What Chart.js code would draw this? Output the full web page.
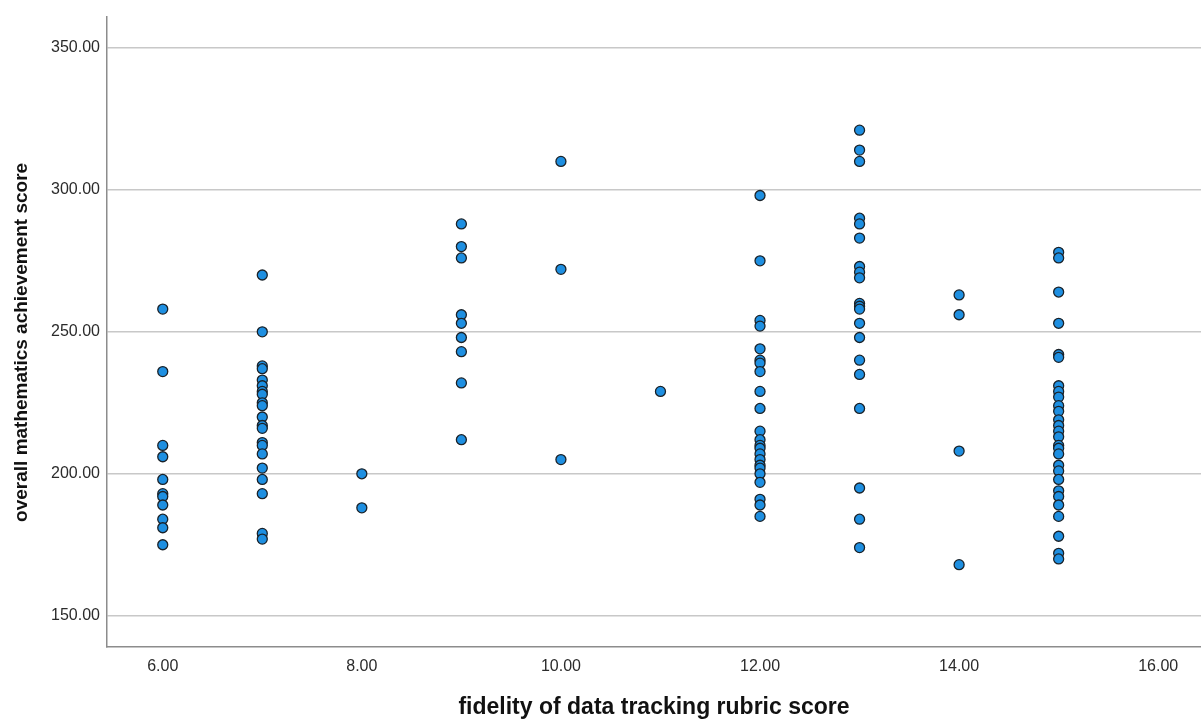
<!DOCTYPE html>
<html>
<head>
<meta charset="utf-8">
<title>fidelity vs mathematics score</title>
<script src="https://cdn.jsdelivr.net/npm/chart.js@4.4.1/dist/chart.umd.min.js"></script>
<style>
   body { margin: 0; background: #fff; }
   canvas { display: block; }
</style>
</head>
<body>
<canvas id="scatter" width="1201" height="719"></canvas>
<script>
const fidelityScores = [6, 7, 8, 9, 10, 11, 12, 13, 14, 15];
const mathAt6 = [258, 236, 210, 206, 198, 193, 192, 189, 184, 181, 175];
const mathAt7 = [270, 250, 238, 237, 233, 231, 229, 228, 225, 224, 220, 217, 216, 211, 210, 207, 202, 198, 193, 179, 177];
const mathAt8 = [200, 188];
const mathAt9 = [288, 280, 276, 256, 253, 248, 243, 232, 212];
const mathAt10 = [310, 272, 205];
const mathAt11 = [229];
const mathAt12 = [298, 275, 254, 252, 244, 240, 239, 236, 229, 223, 215, 212, 210, 209, 207, 205, 203, 202, 200, 197, 191, 189, 185];
const mathAt13 = [321, 314, 310, 290, 288, 283, 273, 271, 269, 260, 259, 258, 253, 248, 240, 235, 223, 195, 184, 174];
const mathAt14 = [263, 256, 208, 168];
const mathAt15 = [278, 276, 264, 253, 242, 241, 231, 229, 227, 224, 222, 219, 217, 215, 213, 210, 209, 207, 203, 201, 198, 194, 192, 189, 185, 178, 172, 170];

const xTickValues = [6, 8, 10, 12, 14, 16];
const yTickValues = [150, 200, 250, 300, 350];

const xTitle = 'fidelity of data tracking rubric score';
const yTitle = 'overall mathematics achievement score';

const scoreGroups = [mathAt6, mathAt7, mathAt8, mathAt9, mathAt10, mathAt11, mathAt12, mathAt13, mathAt14, mathAt15];

let points = [];
scoreGroups.forEach((group, i) => {
   group.forEach(score => points.push({x: fidelityScores[i], y: score}));
});

const fontFamily = "'Liberation Sans', Arial, sans-serif";

const ctx = document.getElementById('scatter').getContext('2d');

const chart = new Chart(ctx, {
   type: 'scatter',
   data: {
      datasets: [{
         data: points,
         backgroundColor: '#1e8fe1',
         borderColor: '#1a2229',
         borderWidth: 1.3,
         pointRadius: 5,
         pointHoverRadius: 5
      }]
   },
   options: {
      responsive: false,
      animation: false,
      // no extra room for the point radius, plot goes to the canvas edge like the spss export
      layout: { autoPadding: false, padding: { top: 14, right: 0, left: 0, bottom: 0 } },
      plugins: {
         legend: { display: false },
         tooltip: { enabled: false }
      },
      scales: {
         x: {
            type: 'linear',
            min: 5.44,
            max: 16.43,
            afterBuildTicks: scale => { scale.ticks = xTickValues.map(v => ({value: v})); },
            afterFit: scale => { scale.height = 72; },
            grid: { display: false, drawTicks: false },
            border: { display: true, color: '#8c8c8c', width: 1.5 },
            ticks: {
               padding: 10,
               maxRotation: 0,
               color: '#2b2b2b',
               font: { family: fontFamily, size: 16 },
               callback: v => Number(v).toFixed(2)
            },
            title: {
               display: true,
               text: xTitle,
               color: '#111',
               padding: 0,
               font: { family: fontFamily, size: 23, weight: 'bold', lineHeight: 1 }
            }
         },
         y: {
            type: 'linear',
            min: 139,
            max: 361,
            afterBuildTicks: scale => { scale.ticks = yTickValues.map(v => ({value: v})); },
            afterFit: scale => { scale.width = 107; },
            grid: { color: '#c8c8c8', lineWidth: 1.6, drawTicks: false },
            border: { display: true, color: '#8c8c8c', width: 1.5 },
            ticks: {
               padding: 7,
               color: '#2b2b2b',
               font: { family: fontFamily, size: 16 },
               callback: v => Number(v).toFixed(2)
            },
            title: {
               display: true,
               text: yTitle + '\u00a0\u00a0\u00a0\u00a0',
               color: '#111',
               padding: 10,
               font: { family: fontFamily, size: 19, weight: 'bold', lineHeight: 1.2 }
            }
         }
      }
   }
});
</script>
</body>
</html>
